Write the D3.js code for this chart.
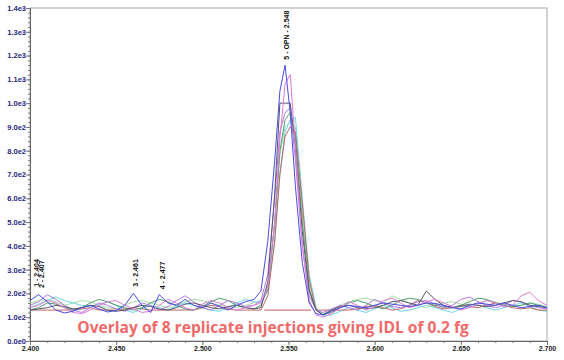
<!DOCTYPE html>
<html>
<head>
<meta charset="utf-8">
<script src="https://cdn.jsdelivr.net/npm/d3@7"></script>
<style>
  body { margin: 0; background: #fff; }
</style>
</head>
<body>
<script>
// retention times (min), baseline every 0.005, denser over the peak
var times = [2.400,2.405,2.410,2.415,2.420,2.425,2.430,2.435,2.440,2.445,2.450,2.455,2.460,2.465,2.470,2.475,2.480,2.485,2.490,2.495,2.500,2.505,2.510,2.515,2.520,2.525,2.530,
  2.534,2.538,2.542,2.545,2.548,2.551,2.554,2.558,2.562,2.566,
  2.570,2.575,2.580,2.585,2.590,2.595,2.600,2.605,2.610,2.615,2.620,2.625,2.630,2.635,2.640,2.645,2.650,2.655,2.660,2.665,2.670,2.675,2.680,2.685,2.690,2.695,2.700];

// intensities of the 8 replicate injections
var blueRun = [170,195,165,130,118,125,140,150,135,122,128,150,200,150,120,195,160,150,175,150,140,160,145,130,150,165,175,
  210,420,760,1050,1160,960,650,330,160,115,
  110,125,140,150,145,140,150,160,155,150,145,150,160,158,150,140,135,150,160,155,150,160,150,140,145,150,140];
var pinkRun = [140,150,170,160,140,120,115,130,150,165,170,150,135,120,125,150,175,160,140,130,155,170,160,140,130,140,150,
  160,230,500,850,1080,1120,820,400,170,110,
  100,115,140,165,150,130,145,170,180,160,140,150,165,175,160,145,130,140,155,170,160,145,150,190,205,170,150];
var violetRun = [150,165,195,175,150,130,120,140,160,150,135,125,140,160,150,130,145,170,190,165,140,130,150,170,160,145,150,
  170,280,600,880,960,980,760,400,190,130,
  120,135,150,140,130,150,175,160,145,140,150,165,170,155,140,150,175,185,165,150,140,150,170,165,150,140,135];
var greenRun = [130,140,160,155,140,130,140,160,175,165,150,140,130,140,160,175,165,150,135,130,145,165,180,170,150,140,135,
  150,220,500,800,930,960,860,500,220,130,
  110,120,140,160,170,160,145,135,150,170,180,175,160,150,145,140,150,165,180,175,160,150,145,150,160,150,140];
var cyanRun = [140,155,170,185,170,160,150,145,155,165,150,130,120,135,150,140,130,145,160,150,140,130,125,140,160,175,165,
  165,210,420,700,880,930,940,600,280,140,
  105,110,125,140,130,120,135,150,140,125,130,140,150,140,130,120,135,145,150,140,130,140,150,160,145,130,125];
var darkRun = [130,135,140,150,145,135,140,150,145,130,125,130,140,150,145,135,130,140,155,160,150,140,135,145,150,140,135,
  140,250,620,1000,1000,1000,820,460,210,130,
  110,130,145,150,140,135,140,150,165,170,160,150,210,175,150,140,145,155,150,145,150,160,170,165,150,145,140];
var brownRun = [130,130,130,130,130,130,135,140,130,130,130,135,140,135,130,130,130,130,130,130,140,150,145,135,130,130,130,
  130,190,420,700,860,900,880,580,260,130,
  130,130,130,130,135,145,150,140,130,135,150,170,160,145,135,140,150,145,140,150,160,150,140,135,140,130,130];
var lightGreenRun = [160,170,175,165,150,160,170,165,150,140,135,150,165,170,160,150,140,150,165,175,170,160,150,145,140,150,160,
  165,230,480,780,900,920,900,540,240,130,
  115,130,150,165,175,180,170,160,190,175,160,150,140,150,160,165,155,150,160,170,165,155,145,150,160,155,145];

var runs = [lightGreenRun, cyanRun, brownRun, greenRun, violetRun, darkRun, pinkRun, blueRun];
var runColors = ["#a4dea4", "#6ad8ea", "#c06464", "#4e9e6e", "#b27ae0", "#55556a", "#e27ad8", "#4a4ae0"];

// integration baseline under the main peak
var baseTimes = [2.536, 2.563];
var baseLevels = [130, 130];

// peak annotations
var peakLabels = ["1 - 2.404", "2 - 2.407", "3 - 2.461", "4 - 2.477", "5 - OPN - 2.548"];
var peakTimes = [2.4035, 2.4065, 2.461, 2.477, 2.549];
var peakTops = [215, 210, 215, 205, 1170];

var yTickLabels = ["0.0e0","1.0e2","2.0e2","3.0e2","4.0e2","5.0e2","6.0e2","7.0e2","8.0e2","9.0e2","1.0e3","1.1e3","1.2e3","1.3e3","1.4e3"];
var xTickValues = [2.400, 2.450, 2.500, 2.550, 2.600, 2.650, 2.700];

var width = 564, height = 360;
var plotLeft = 30, plotRight = 547, plotTop = 8, plotBottom = 341;

var svg = d3.select("body").append("svg")
    .attr("width", width)
    .attr("height", height);

var xScale = d3.scaleLinear().domain([2.4, 2.7]).range([plotLeft, plotRight]);
var yScale = d3.scaleLinear().domain([0, 1400]).range([plotBottom, plotTop]);

// frame
svg.append("rect")
    .attr("x", plotLeft).attr("y", plotTop)
    .attr("width", plotRight - plotLeft).attr("height", plotBottom - plotTop)
    .attr("fill", "none").attr("stroke", "#aaa").attr("stroke-width", 1);

// minor ticks
var yMinor = d3.axisLeft(yScale).tickValues(d3.range(0, 1401, 20)).tickSize(2).tickFormat("");
var xMinor = d3.axisBottom(xScale).tickValues(d3.range(2.4, 2.7001, 0.01)).tickSize(2).tickFormat("");
svg.append("g").attr("transform", "translate(" + plotLeft + ",0)").call(yMinor);
svg.append("g").attr("transform", "translate(0," + plotBottom + ")").call(xMinor);

// major axes
var yAxis = d3.axisLeft(yScale)
    .tickValues(d3.range(0, 1401, 100))
    .tickSize(4)
    .tickFormat(function(d, i) { return yTickLabels[i]; });
var xAxis = d3.axisBottom(xScale)
    .tickValues(xTickValues)
    .tickSize(4)
    .tickFormat(d3.format(".3f"));

var gy = svg.append("g").attr("transform", "translate(" + plotLeft + ",0)").call(yAxis);
var gx = svg.append("g").attr("transform", "translate(0," + plotBottom + ")").call(xAxis);

svg.selectAll(".domain").attr("stroke", "#666");
svg.selectAll(".tick line").attr("stroke", "#777");
gy.selectAll("text")
    .attr("font-family", "Liberation Sans, Arial, sans-serif")
    .attr("font-size", "7.5px")
    .attr("font-weight", "bold")
    .attr("fill", "#262680")
    .attr("x", -4);
gx.selectAll("text")
    .attr("font-family", "Liberation Sans, Arial, sans-serif")
    .attr("font-size", "7px")
    .attr("font-weight", "bold")
    .attr("fill", "#222")
    .attr("y", 5);

svg.append("clipPath").attr("id", "plot")
  .append("rect")
    .attr("x", plotLeft).attr("y", plotTop)
    .attr("width", plotRight - plotLeft).attr("height", plotBottom - plotTop);

var line = d3.line()
    .x(function(d) { return xScale(d[0]); })
    .y(function(d) { return yScale(d[1]); });

var traces = svg.append("g").attr("clip-path", "url(#plot)");

traces.append("path")
    .datum(d3.zip(baseTimes, baseLevels))
    .attr("d", line)
    .attr("fill", "none")
    .attr("stroke", "#c05a5a")
    .attr("stroke-width", 1);

traces.selectAll(".run")
    .data(runs)
    .enter()
    .append("path")
    .attr("class", "run")
    .attr("d", function(d) { return line(d3.zip(times, d)); })
    .attr("fill", "none")
    .attr("stroke", function(d, i) { return runColors[i]; })
    .attr("stroke-width", 1);

// peak labels, vertical
svg.selectAll(".peak")
    .data(peakLabels)
    .enter()
    .append("text")
    .attr("class", "peak")
    .attr("transform", function(d, i) {
        return "translate(" + (xScale(peakTimes[i]) + 2.5) + "," + (yScale(peakTops[i]) - 3) + ") rotate(-90)";
    })
    .attr("font-family", "Liberation Sans, Arial, sans-serif")
    .attr("font-size", "7px")
    .attr("font-weight", "bold")
    .attr("fill", "#111")
    .text(function(d) { return d; });

// caption
svg.append("text")
    .attr("x", 273)
    .attr("y", 333)
    .attr("text-anchor", "middle")
    .attr("font-family", "Open Sans, sans-serif")
    .attr("font-size", "15.6px")
    .attr("font-weight", "bold")
    .attr("fill", "#f06a6a")
    .text("Overlay of 8 replicate injections giving IDL of 0.2 fg");
</script>
</body>
</html>
